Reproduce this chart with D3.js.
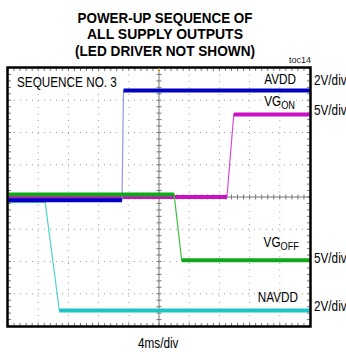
<!DOCTYPE html>
<html>
<head>
<meta charset="utf-8">
<script src="https://cdn.jsdelivr.net/npm/d3@7"></script>
<style>
  body { margin: 0; background: #fff; }
  text { font-family: "Liberation Sans", Arial, sans-serif; }
</style>
</head>
<body>
<div id="chart"></div>
<script>
// time in ms (4ms/div, trigger at center), values in volts
let avddT = [-20, -4.9, -4.7, 20];
let avddV = [0, 0, 6.8, 6.8];
let vgonT = [-20, 9.0, 9.9, 20];
let vgonV = [0, 0, 12.8, 12.8];
let vgoffT = [-20, 2.0, 3.0, 20];
let vgoffV = [0, 0, -10.2, -10.2];
let navddT = [-20, -15.1, -13.2, 20];
let navddV = [0, 0, -6.8, -6.8];

let titleLines = ["POWER-UP SEQUENCE OF", "ALL SUPPLY OUTPUTS", "(LED DRIVER NOT SHOWN)"];

let width = 346;
let height = 352;
let pLeft = 8, pRight = 310, pTop = 68, pBottom = 326;

let svg = d3.select("#chart")
  .append("svg")
  .attr("width", width)
  .attr("height", height);

let x = d3.scaleLinear().domain([-20, 20]).range([pLeft, pRight]);
// y in divisions from screen center
let y = d3.scaleLinear().domain([-4, 4]).range([pBottom, pTop]);

// title
let titleWidths = [175, 156, 180];
titleLines.forEach(function (t, i) {
  svg.append("text")
    .attr("x", 165)
    .attr("y", 22.5 + i * 16.8)
    .attr("text-anchor", "middle")
    .attr("font-size", 15.5)
    .attr("font-weight", "bold")
    .attr("textLength", titleWidths[i])
    .attr("lengthAdjust", "spacingAndGlyphs")
    .text(t);
});

svg.append("text")
  .attr("x", 289).attr("y", 63)
  .attr("font-size", 9)
  .attr("fill", "#222")
  .text("toc14");

// dotted grid
let xDivs = d3.range(-20, 20.1, 4);
let yDivs = d3.range(-4, 4.1, 1);
let grid = svg.append("g");
xDivs.forEach(function (d) {
  if (d === 0 || Math.abs(d) === 20) return;
  grid.append("line")
    .attr("x1", x(d)).attr("x2", x(d))
    .attr("y1", pTop).attr("y2", pBottom)
    .attr("stroke", "#999").attr("stroke-width", 1)
    .attr("stroke-dasharray", "1,5.5");
});
yDivs.forEach(function (d) {
  if (d === 0 || Math.abs(d) === 4) return;
  grid.append("line")
    .attr("x1", pLeft).attr("x2", pRight)
    .attr("y1", y(d)).attr("y2", y(d))
    .attr("stroke", "#999").attr("stroke-width", 1)
    .attr("stroke-dasharray", "1,5");
});

// center crosshair with minor ticks
grid.append("line")
  .attr("x1", x(0)).attr("x2", x(0)).attr("y1", pTop).attr("y2", pBottom)
  .attr("stroke", "#777").attr("stroke-width", 1);
grid.append("line")
  .attr("x1", pLeft).attr("x2", pRight).attr("y1", y(0)).attr("y2", y(0))
  .attr("stroke", "#777").attr("stroke-width", 1);
d3.range(-20, 20.01, 0.8).forEach(function (d) {
  grid.append("line")
    .attr("x1", x(d)).attr("x2", x(d)).attr("y1", y(0) - 2.5).attr("y2", y(0) + 2.5)
    .attr("stroke", "#777");
  grid.append("line")
    .attr("x1", x(d)).attr("x2", x(d)).attr("y1", pBottom - 3).attr("y2", pBottom)
    .attr("stroke", "#777");
  grid.append("line")
    .attr("x1", x(d)).attr("x2", x(d)).attr("y1", pTop).attr("y2", pTop + 3)
    .attr("stroke", "#777");
});
d3.range(-4, 4.01, 0.2).forEach(function (d) {
  grid.append("line")
    .attr("x1", x(0) - 2.5).attr("x2", x(0) + 2.5).attr("y1", y(d)).attr("y2", y(d))
    .attr("stroke", "#777");
  grid.append("line")
    .attr("x1", pLeft).attr("x2", pLeft + 3).attr("y1", y(d)).attr("y2", y(d))
    .attr("stroke", "#777");
  grid.append("line")
    .attr("x1", pRight - 3).attr("x2", pRight).attr("y1", y(d)).attr("y2", y(d))
    .attr("stroke", "#777");
});

// traces
let channels = [
  { t: navddT, v: navddV, perDiv: 2, zero: -0.12, color: "#1cc4c4", light: "#4fd2d2" },
  { t: vgonT, v: vgonV, perDiv: 5, zero: 0.0, color: "#cc10c4", light: "#d84cd2" },
  { t: avddT, v: avddV, perDiv: 2, zero: -0.1, color: "#0000c0", light: "#9096ea" },
  { t: vgoffT, v: vgoffV, perDiv: 5, zero: 0.08, color: "#10a818", light: "#3cc040" }
];

let line = d3.line()
  .x(function (d) { return x(d[0]); })
  .y(function (d) { return y(d[1]); });

channels.forEach(function (c) {
  let pts = c.t.map(function (t, i) { return [t, c.zero + c.v[i] / c.perDiv]; });
  svg.append("path")
    .attr("d", line(pts))
    .attr("fill", "none")
    .attr("stroke", c.light)
    .attr("stroke-width", 1.2);
  for (let i = 0; i < pts.length - 1; i++) {
    if (c.v[i] === c.v[i + 1]) {
      svg.append("path")
        .attr("d", line([pts[i], pts[i + 1]]))
        .attr("fill", "none")
        .attr("stroke", c.color)
        .attr("stroke-width", 4);
    }
  }
});

// frame
svg.append("rect")
  .attr("x", pLeft - 0.5).attr("y", pTop - 0.5)
  .attr("width", pRight - pLeft + 1).attr("height", pBottom - pTop + 1)
  .attr("fill", "none")
  .attr("stroke", "#000").attr("stroke-width", 2.5);

// trigger marker
svg.append("line")
  .attr("x1", x(0)).attr("x2", x(0)).attr("y1", pTop).attr("y2", pTop + 3)
  .attr("stroke", "#f0a020").attr("stroke-width", 1.5);

// labels, horizontally condensed like the scope font
function label(txt, sub, xPos, yBase, anchor) {
  let g = svg.append("g")
    .attr("transform", "translate(" + xPos + "," + yBase + ") scale(0.84,1)");
  let t = g.append("text")
    .attr("text-anchor", anchor)
    .attr("font-size", 14);
  t.append("tspan").text(txt);
  if (sub) {
    t.append("tspan").attr("font-size", 11).attr("dy", 3).text(sub);
  }
}
label("SEQUENCE NO. 3", null, 17, 87, "start");
label("AVDD", null, 296, 84, "end");
label("VG", "ON", 295, 106, "end");
label("VG", "OFF", 299, 247, "end");
label("NAVDD", null, 298, 302, "end");

let scaleLabels = [["2V/div", 85], ["5V/div", 115], ["5V/div", 263], ["2V/div", 311]];
scaleLabels.forEach(function (s) {
  label(s[0], null, 314, s[1], "start");
});

label("4ms/div", null, 138, 348, "start");
</script>
</body>
</html>
